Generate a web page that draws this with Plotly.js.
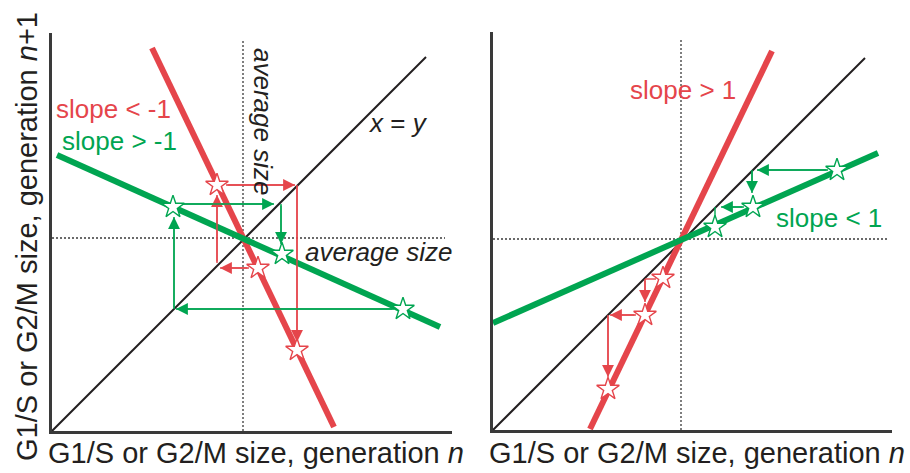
<!DOCTYPE html>
<html>
<head>
<meta charset="utf-8">
<script src="https://cdn.plot.ly/plotly-3.0.1.min.js"></script>
<style>html,body{margin:0;padding:0;background:#fff;}#chart{width:910px;height:473px;}</style>
</head>
<body>
<div id="chart"></div>
<script>
// ---- Data (units: arbitrary size units, origin at axis corner) ----
// Left panel: negative slopes
const leftDiagX = [0, 374];
const leftDiagY = [0, 374];
const leftRedX = [100, 282];
const leftRedY = [383, 4];
const leftGreenX = [5, 388];
const leftGreenY = [276, 104];
const leftAvgX = 191;
const leftAvgY = 193;
const leftRedStarsX = [165, 206, 245];
const leftRedStarsY = [246, 163, 81];
const leftGreenStarsX = [121, 230, 351];
const leftGreenStarsY = [224, 177, 122];
// cobweb segments [x0, y0, x1, y1] tail -> head
const leftRedArrows = [[197,163,168,163],[165,168,165,236],[174,246,243,246],[245,246,245,89]];
const leftGreenArrows = [[342,122,124,122],[122,122,122,214],[130,227,222,227],[229,227,229,187]];

// Right panel: positive slopes
const rightDiagX = [0, 372];
const rightDiagY = [0, 372];
const rightRedX = [97, 279];
const rightRedY = [1, 379];
const rightGreenX = [0, 385];
const rightGreenY = [107, 277];
const rightAvgX = 188;
const rightAvgY = 191;
const rightRedStarsX = [170, 152, 115];
const rightRedStarsY = [152, 115, 41];
const rightGreenStarsX = [344, 260, 222];
const rightGreenStarsY = [260, 223, 203];
const rightRedArrows = [[152,151,152,128],[143,115,117,115],[115,115,115,53]];
const rightRedLines = [[163,151,152,151]];
const rightGreenArrows = [[335,260,264,260],[259,260,259,237],[251,223,228,223]];
const rightGreenLines = [[222,223,222,213]];

// Texts
const xTitle = 'G1/S or G2/M size, generation <i>n</i>';
const yTitle = 'G1/S or G2/M size, generation <i>n</i>+1';

// ---- Styles ----
const RED = '#E5454B';
const GREEN = '#00A551';
const BLACK = '#231F20';
const AXIS = '#3a3a3a';
const FONT = 'Liberation Sans, Arial, Helvetica, sans-serif';

function lineTrace(xs, ys, color, width, xa, ya, dash) {
  return {x: xs, y: ys, type: 'scatter', mode: 'lines', xaxis: xa, yaxis: ya,
          line: {color: color, width: width, dash: dash || 'solid'}, hoverinfo: 'skip', showlegend: false};
}
function starTrace(xs, ys, color, xa, ya) {
  return {x: xs, y: ys, type: 'scatter', mode: 'markers', xaxis: xa, yaxis: ya,
          marker: {symbol: 'star', size: 17, color: '#ffffff', line: {color: color, width: 1.4}},
          hoverinfo: 'skip', showlegend: false};
}
function segTraces(segs, color, xa, ya) {
  return segs.map(s => lineTrace([s[0], s[2]], [s[1], s[3]], color, 1.4, xa, ya));
}
function arrowAnns(segs, color, xr, yr) {
  return segs.map(s => ({x: s[2], y: s[3], ax: s[0], ay: s[1], xref: xr, yref: yr, axref: xr, ayref: yr,
    text: '', showarrow: true, arrowhead: 2, arrowsize: 1.7, arrowwidth: 1.4, arrowcolor: color,
    standoff: 0, startstandoff: 0}));
}
function textAnn(text, x, y, xr, yr, color, size, angle) {
  return {text: text, x: x, y: y, xref: xr, yref: yr, showarrow: false, xanchor: 'center', yanchor: 'middle',
    textangle: angle || 0, font: {family: FONT, size: size, color: color}};
}

const traces = [
  // left panel
  lineTrace([leftAvgX, leftAvgX], [0, 392], AXIS, 1.3, 'x', 'y', '2px,2px'),
  lineTrace([0, 393], [leftAvgY, leftAvgY], AXIS, 1.3, 'x', 'y', '2px,2px'),
  lineTrace(leftDiagX, leftDiagY, BLACK, 2, 'x', 'y'),
  ...segTraces(leftRedArrows, RED, 'x', 'y'),
  ...segTraces(leftGreenArrows, GREEN, 'x', 'y'),
  lineTrace(leftRedX, leftRedY, RED, 6, 'x', 'y'),
  lineTrace(leftGreenX, leftGreenY, GREEN, 6, 'x', 'y'),
  starTrace(leftRedStarsX, leftRedStarsY, RED, 'x', 'y'),
  starTrace(leftGreenStarsX, leftGreenStarsY, GREEN, 'x', 'y'),
  // right panel
  lineTrace([rightAvgX, rightAvgX], [0, 391], AXIS, 1.3, 'x2', 'y2', '2px,2px'),
  lineTrace([0, 395], [rightAvgY, rightAvgY], AXIS, 1.3, 'x2', 'y2', '2px,2px'),
  lineTrace(rightDiagX, rightDiagY, BLACK, 2, 'x2', 'y2'),
  ...segTraces(rightRedArrows, RED, 'x2', 'y2'),
  ...segTraces(rightRedLines, RED, 'x2', 'y2'),
  ...segTraces(rightGreenArrows, GREEN, 'x2', 'y2'),
  ...segTraces(rightGreenLines, GREEN, 'x2', 'y2'),
  lineTrace(rightRedX, rightRedY, RED, 6, 'x2', 'y2'),
  lineTrace(rightGreenX, rightGreenY, GREEN, 6, 'x2', 'y2'),
  starTrace(rightRedStarsX, rightRedStarsY, RED, 'x2', 'y2'),
  starTrace(rightGreenStarsX, rightGreenStarsY, GREEN, 'x2', 'y2')
];

const W = 910, H = 473;
function ax(domain, range) {
  return {domain: domain, range: range, showgrid: false, zeroline: false, showticklabels: false, ticks: '',
          showline: true, linecolor: AXIS, linewidth: 3, fixedrange: true};
}

const annotations = [
  ...arrowAnns(leftRedArrows, RED, 'x', 'y'),
  ...arrowAnns(leftGreenArrows, GREEN, 'x', 'y'),
  ...arrowAnns(rightRedArrows, RED, 'x2', 'y2'),
  ...arrowAnns(rightGreenArrows, GREEN, 'x2', 'y2'),
  textAnn('slope &lt; -1', 61, 322, 'x', 'y', RED, 26),
  textAnn('slope &gt; -1', 67, 290, 'x', 'y', GREEN, 26),
  textAnn('<i>x</i> = <i>y</i>', 346, 308, 'x', 'y', BLACK, 26),
  textAnn('<i>average size</i>', 211, 310, 'x', 'y', BLACK, 26, 90),
  textAnn('<i>average size</i>', 326, 179, 'x', 'y', BLACK, 26),
  textAnn('slope &gt; 1', 190, 340, 'x2', 'y2', RED, 26),
  textAnn('slope &lt; 1', 336, 212, 'x2', 'y2', GREEN, 26),
  textAnn(xTitle, 256 / W, 1 - 453 / H, 'paper', 'paper', BLACK, 29),
  textAnn(xTitle, 697 / W, 1 - 453 / H, 'paper', 'paper', BLACK, 29),
  textAnn(yTitle, 27 / W, 1 - 237 / H, 'paper', 'paper', BLACK, 29, -90)
];

const layout = {
  width: W, height: H,
  margin: {l: 0, r: 0, t: 0, b: 0, pad: 0},
  paper_bgcolor: '#ffffff', plot_bgcolor: 'rgba(0,0,0,0)',
  showlegend: false,
  xaxis: ax([52 / W, 452 / W], [0, 400]),
  yaxis: ax([42 / H, 440 / H], [0, 398]),
  xaxis2: Object.assign(ax([493 / W, 892 / W], [0, 399]), {anchor: 'y2'}),
  yaxis2: Object.assign(ax([43 / H, 441 / H], [0, 398]), {anchor: 'x2'}),
  annotations: annotations
};
layout.xaxis.anchor = 'y';
layout.yaxis.anchor = 'x';

Plotly.newPlot('chart', traces, layout, {displayModeBar: false, staticPlot: true});
</script>
</body>
</html>
